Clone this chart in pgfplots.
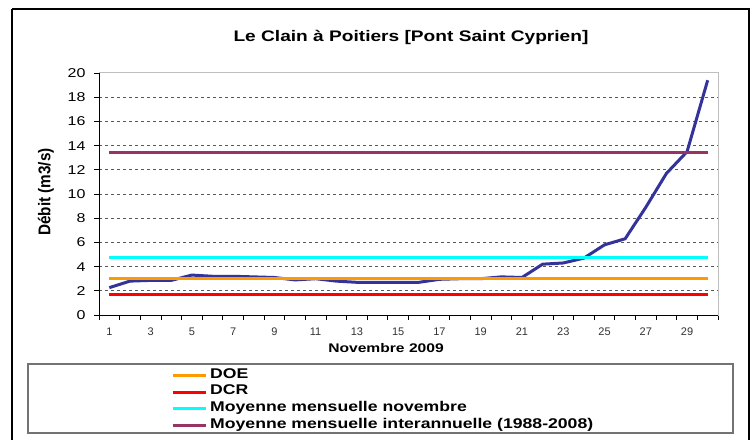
\documentclass[border=0pt]{standalone}
\usepackage{fontspec}
\setmainfont{Liberation Sans}[FakeStretch=1.25]
\newfontfamily\plainfont{Liberation Sans}
\newfontfamily\narrowfont{Liberation Sans}[FakeStretch=0.9]
\usepackage{pgfplots}
\pgfplotsset{compat=1.18}
\definecolor{cDOE}{HTML}{FF9900}
\definecolor{cDCR}{HTML}{FF0000}
\definecolor{cNov}{HTML}{00FFFF}
\definecolor{cInt}{HTML}{993366}
\definecolor{cFlow}{HTML}{333399}
\pgfplotstableread{
day q
1 2.26
2 2.8
3 2.86
4 2.86
5 3.3
6 3.2
7 3.2
8 3.15
9 3.1
10 2.9
11 3.0
12 2.8
13 2.7
14 2.7
15 2.7
16 2.7
17 2.95
18 3.0
19 3.0
20 3.15
21 3.1
22 4.2
23 4.3
24 4.7
25 5.8
26 6.3
27 8.9
28 11.7
29 13.5
30 19.4
}\flow
\begin{document}
\begin{tikzpicture}[x=1pt,y=1pt]
\useasboundingbox (0,0) rectangle (752,439);
\fill[white] (0,0) rectangle (752,439);
\begin{axis}[
  at={(99pt,124pt)}, anchor=south west,
  scale only axis, width=619pt, height=242pt,
  xmin=0.5, xmax=30.5, ymin=0, ymax=20,
  xtick={1,3,...,29},
  minor xtick={0.5,1.5,...,30.5},
  major x tick style={draw=none},
  ytick={0,2,...,20},
  extra y ticks={2,4,...,18},
  extra y tick labels={},
  extra y tick style={grid=major},
  major grid style={dash pattern=on 3pt off 3pt, black!65, line width=0.8pt},
  tick align=outside, tick pos=left,
  major tick length=5pt, minor tick length=5pt,
  tick style={black, line width=0.8pt},
  axis line style={draw=black!25, line width=1pt},
  /pgf/number format/assume math mode=true,
  yticklabel style={font=\fontsize{12.8}{14}\selectfont, xshift=-5pt},
  xticklabel style={font=\plainfont\fontsize{11}{12}\selectfont, text=black!80, yshift=-4pt},
  title={\bfseries Le Clain à Poitiers [Pont Saint Cyprien]},
  title style={font=\fontsize{15.3}{18}\selectfont, at={(axis description cs:0.504,1.124)}, anchor=center},
  ylabel={\narrowfont\bfseries Débit (m3/s)},
  ylabel style={font=\fontsize{17}{19}\selectfont, at={(axis description cs:-0.0856,0.508)}, anchor=center},
  xlabel={\bfseries Novembre 2009},
  xlabel style={font=\fontsize{12.5}{15}\selectfont, at={(axis description cs:0.4637,-0.136)}, anchor=center},
  legend style={at={(axis description cs:0.1115,-0.2066)}, anchor=north west, draw=none, fill=none,
    font=\fontsize{14.1}{16.7}\selectfont\bfseries, row sep=0pt,
    nodes={inner sep=0pt, text height=11pt, text depth=5.7pt}},
  legend cell align=left,
  legend image code/.code={\draw[#1, line width=3pt] (0pt,0pt) -- (33pt,0pt);},
]
\addplot[cFlow, line width=3pt, forget plot] table[x=day, y=q] {\flow};
\addplot[cDOE, line width=3pt] coordinates {(1,3.0) (30,3.0)};
\addlegendentry{\hspace{3pt}DOE}
\addplot[cDCR, line width=3pt] coordinates {(1,1.72) (30,1.72)};
\addlegendentry{\hspace{3pt}DCR}
\addplot[cNov, line width=3pt] coordinates {(1,4.72) (30,4.72)};
\addlegendentry{\hspace{3pt}Moyenne mensuelle novembre}
\addplot[cInt, line width=3pt] coordinates {(1,13.4) (30,13.4)};
\addlegendentry{\hspace{3pt}Moyenne mensuelle interannuelle (1988-2008)}
\draw[black, line width=1pt] (rel axis cs:0,1) -- (rel axis cs:0,0) -- (rel axis cs:1,0);
\end{axis}
\draw[black!55, line width=1.5pt] (28,75) rectangle (733,6);
\draw[black, line width=2.5pt] (12,430) -- (749,430) -- (749,-10);
\draw[black, line width=2.5pt] (12,430) -- (12,-10);
\end{tikzpicture}
\end{document}
